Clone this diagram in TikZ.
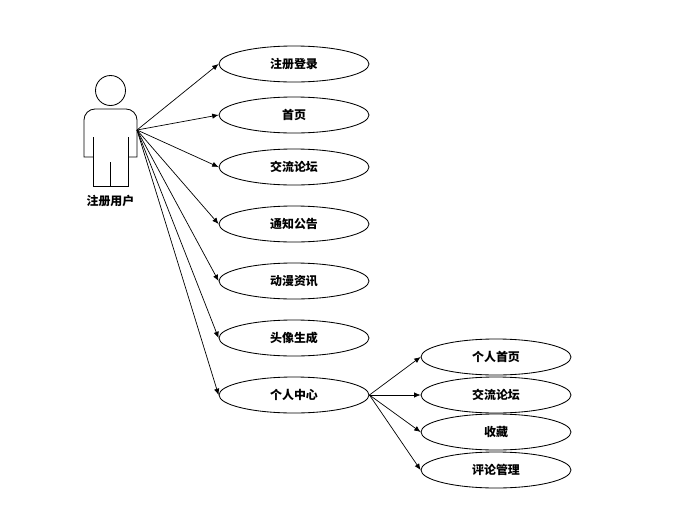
\documentclass[tikz,border=0pt]{standalone}
\usepackage{fontspec}
\setmainfont{Noto Sans CJK SC}
\usetikzlibrary{shapes.geometric,arrows.meta}

\tikzset{
  usecase/.style={ellipse,draw,line width=0.6pt,inner sep=0pt,minimum width=3.75cm,minimum height=0.9cm,font=\fontsize{8.5pt}{10pt}\selectfont\bfseries},
  link/.style={line width=0.5pt,-{Latex[length=4.5pt,width=3.8pt]}},
  figure/.style={line width=0.6pt}
}

\begin{document}
\begin{tikzpicture}[x=0.025cm,y=-0.025cm]
  \useasboundingbox (0,0) rectangle (686,527);

  % user figure
  \draw[figure] (110.5,90.5) circle (15);
  \draw[figure] (93,157) -- (84,157) -- (84,120) arc (180:270:11) -- (126,109) arc (270:360:11) -- (137,157) -- (128,157);
  \draw[figure] (93,137) -- (93,186) -- (128,186) -- (128,137);
  \draw[figure] (110.5,162) -- (110.5,186);
  \coordinate (hand) at (137,130);
  \node[font=\fontsize{8.5pt}{10pt}\selectfont\bfseries] (user) at (110.5,201) {注册用户};

  % main cases
  \node[usecase] (login) at (294,64) {注册登录};
  \node[usecase] (home) at (294,115) {首页};
  \node[usecase] (forum) at (294,167) {交流论坛};
  \node[usecase] (notice) at (294,224) {通知公告};
  \node[usecase] (news) at (294,281) {动漫资讯};
  \node[usecase] (avatar) at (294,338) {头像生成};
  \node[usecase] (center) at (294,395) {个人中心};

  % personal center
  \node[usecase] (myhome) at (496,357) {个人首页};
  \node[usecase] (myforum) at (496,395) {交流论坛};
  \node[usecase] (favorite) at (496,432) {收藏};
  \node[usecase] (comment) at (496,470) {评论管理};

  \draw[link] (hand) -- (login.west);
  \draw[link] (hand) -- (home.west);
  \draw[link] (hand) -- (forum.west);
  \draw[link] (hand) -- (notice.west);
  \draw[link] (hand) -- (news.west);
  \draw[link] (hand) -- (avatar.west);
  \draw[link] (hand) -- (center.west);

  \draw[link] (center.east) -- (myhome.west);
  \draw[link] (center.east) -- (myforum.west);
  \draw[link] (center.east) -- (favorite.west);
  \draw[link] (center.east) -- (comment.west);
\end{tikzpicture}
\end{document}
